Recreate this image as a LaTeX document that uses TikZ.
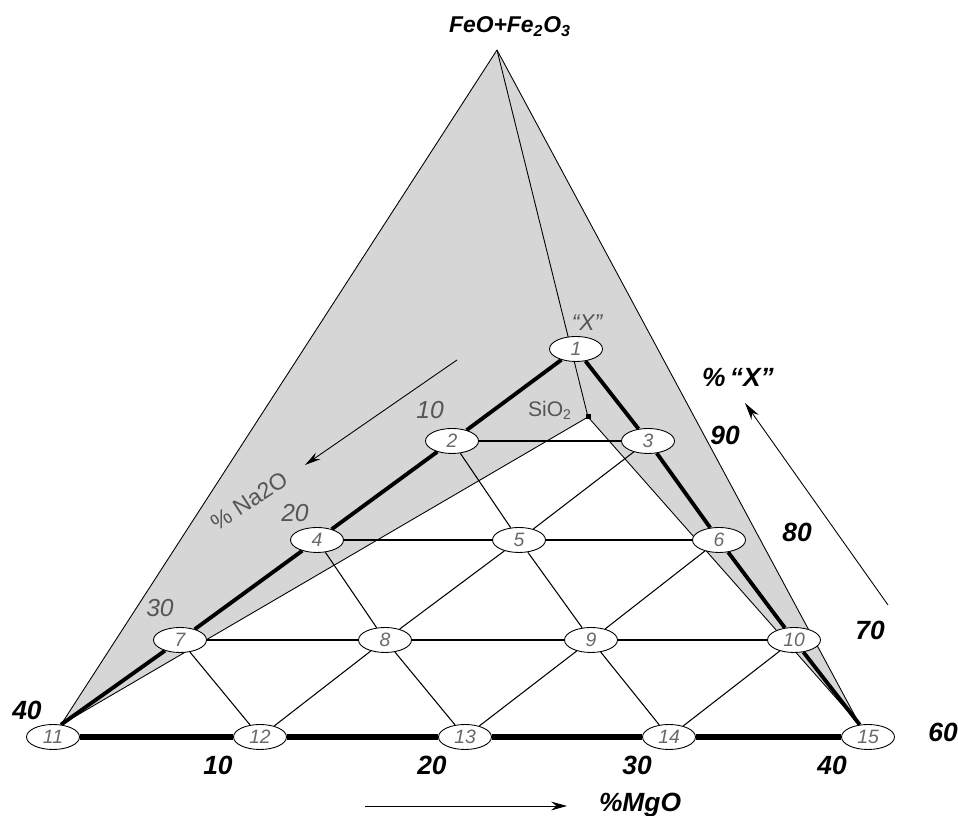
\documentclass[tikz,border=0pt]{standalone}
\usepackage{fontspec}
\setmainfont{Liberation Sans}
\usepackage{tikz}
\usetikzlibrary{arrows.meta,shapes,positioning,calc,backgrounds}
\definecolor{phgray}{RGB}{214,214,214}
\definecolor{phtext}{RGB}{85,85,85}
\definecolor{phnum}{RGB}{105,105,105}

\begin{document}
\begin{tikzpicture}[every node/.style={font=\small},
    comp/.style={draw, ellipse, fill=white, line width=0.5pt, minimum width=1.06cm, minimum height=0.5cm, inner sep=0pt, font=\fontsize{11}{12}\selectfont\itshape, text=phnum},
    axlabel/.style={font=\fontsize{15}{16}\selectfont\bfseries\itshape},
    scalelabel/.style={font=\fontsize{14}{15}\selectfont\itshape, text=phtext},
    gridline/.style={line width=0.6pt},
    thickedge/.style={line width=2.2pt},
    bottomedge/.style={line width=3.4pt}]
    \useasboundingbox (0,0) rectangle (19.16,16.32);

    % Apex and title
    \coordinate (fe) at (9.94,15.32);
    \node[axlabel, font=\fontsize{13}{14}\selectfont\bfseries\itshape] (title) at (10.20,15.78) {FeO+Fe\textsubscript{2}O\textsubscript{3}};

    % Compositions
    \node[comp] (n1) at (11.52,9.34) {1};
    \node[comp] (n2) at (9.04,7.50) {2};
    \node[comp] (n3) at (12.96,7.50) {3};
    \node[comp] (n4) at (6.34,5.52) {4};
    \node[comp] (n5) at (10.38,5.52) {5};
    \node[comp] (n6) at (14.38,5.52) {6};
    \node[comp] (n7) at (3.60,3.52) {7};
    \node[comp] (n8) at (7.70,3.52) {8};
    \node[comp] (n9) at (11.82,3.52) {9};
    \node[comp] (n10) at (15.88,3.52) {10};
    \node[comp] (n11) at (1.06,1.58) {11};
    \node[comp] (n12) at (5.20,1.58) {12};
    \node[comp] (n13) at (9.30,1.58) {13};
    \node[comp] (n14) at (13.38,1.58) {14};
    \node[comp] (n15) at (17.36,1.58) {15};

    % SiO2 corner
    \node[fill, rectangle, minimum size=0.1cm, inner sep=0pt] (si) at (11.76,7.98) {};
    \node[font=\fontsize{12}{13}\selectfont, text=phtext] (silabel) at (11.00,8.12) {SiO\textsubscript{2}};
    \node[font=\fontsize{13}{14}\selectfont\itshape, text=phtext] (xlabel) at (11.74,9.86) {“X”};

    \begin{pgfonlayer}{background}
        % Shaded faces
        \fill[phgray] (fe) -- (n11.57) -- (si.center) -- (n15.124) -- cycle;
        \draw[line width=0.5pt] (fe) -- (n11.57);
        \draw[line width=0.5pt] (fe) -- (n15.124);
        \draw[line width=0.5pt] (fe) -- (si.center);
        \draw[line width=0.5pt] (si.center) -- (n11.57);
        \draw[line width=0.5pt] (si.center) -- (n15.124);

        % Thin grid
        \draw[gridline] (n2) -- (n3);
        \draw[gridline] (n4) -- (n5) -- (n6);
        \draw[gridline] (n7) -- (n8) -- (n9) -- (n10);
        \draw[gridline] (n2) -- (n5) -- (n9) -- (n14);
        \draw[gridline] (n3) -- (n5) -- (n8) -- (n12);
        \draw[gridline] (n4) -- (n8) -- (n13);
        \draw[gridline] (n6) -- (n9) -- (n13);
        \draw[gridline] (n7) -- (n12);
        \draw[gridline] (n10) -- (n14);

        % Thick boundaries
        \draw[thickedge] (n1) -- (n2) -- (n4) -- (n7) -- (n11.57);
        \draw[thickedge] (n1) -- (n3) -- (n6) -- (n10) -- (n15.124);
        \draw[bottomedge] (n11) -- (n12) -- (n13) -- (n14) -- (n15);
    \end{pgfonlayer}

    % Na2O scale
    \coordinate (natail) at (9.14,9.12);
    \coordinate (nahead) at (6.10,7.02);
    \draw[-{Stealth[length=9pt, width=4.5pt]}, line width=0.5pt] (natail) -- (nahead);
    \node[font=\fontsize{13}{14}\selectfont, text=phtext, rotate=33, inner sep=0pt] (na) at (4.98,6.30) {\% Na2O};
    \node[scalelabel] (na10) at (8.60,8.12) {10};
    \node[scalelabel] (na20) at (5.90,6.06) {20};
    \node[scalelabel] (na30) at (3.20,4.16) {30};
    \node[axlabel] (na40) at (0.54,2.12) {40};

    % X scale
    \coordinate (xtail) at (17.76,4.22);
    \coordinate (xhead) at (14.90,8.26);
    \draw[-{Stealth[length=10pt, width=5pt]}, line width=0.5pt] (xtail) -- (xhead);
    \node[axlabel] (xpct) at (14.76,8.78) {\%\,“X”};
    \node[axlabel] (x90) at (14.50,7.62) {90};
    \node[axlabel] (x80) at (15.94,5.68) {80};
    \node[axlabel] (x70) at (17.40,3.72) {70};
    \node[axlabel] (x60) at (18.86,1.68) {60};

    % MgO scale
    \node[axlabel] (mg10) at (4.36,1.02) {10};
    \node[axlabel] (mg20) at (8.64,1.02) {20};
    \node[axlabel] (mg30) at (12.74,1.02) {30};
    \node[axlabel] (mg40) at (16.64,1.02) {40};
    \coordinate (mgtail) at (7.30,0.20);
    \coordinate (mghead) at (11.34,0.20);
    \draw[-{Stealth[length=9pt, width=5pt]}, line width=0.5pt] (mgtail) -- (mghead);
    \node[axlabel] (mg) at (12.80,0.22) {\%MgO};
\end{tikzpicture}
\end{document}
